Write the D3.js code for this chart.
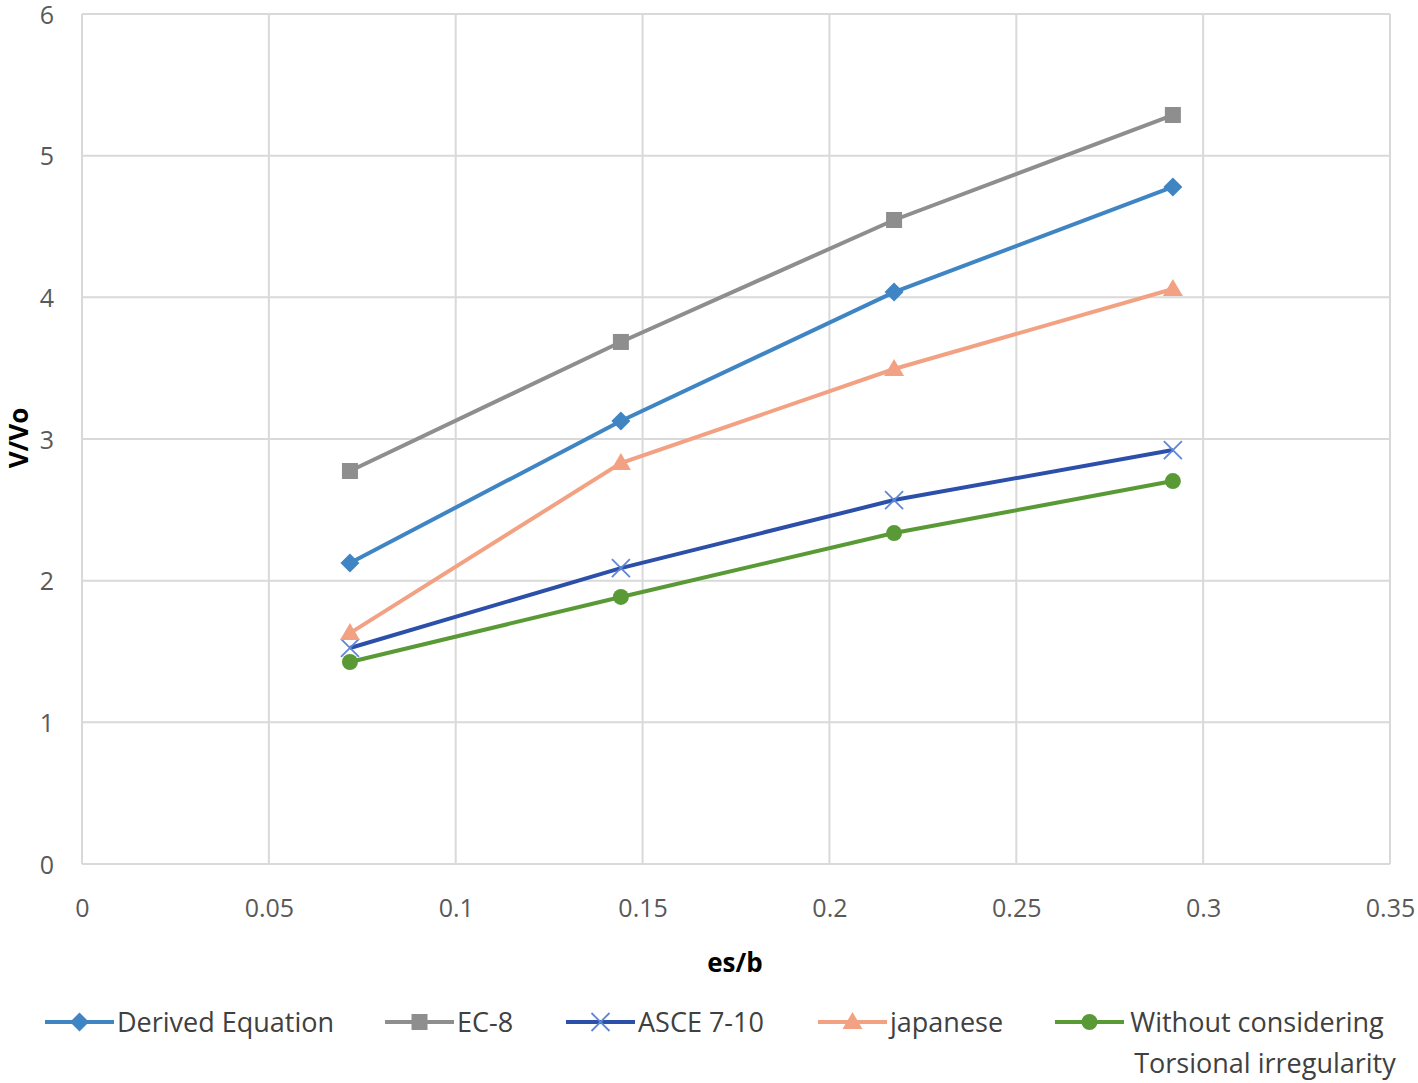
<!DOCTYPE html>
<html><head><meta charset="utf-8">
<script src="https://cdn.jsdelivr.net/npm/d3@7"></script>
<style>
body{margin:0;background:#fff;}
text{font-family:"Liberation Sans Narrow","Open Sans",Lato,sans-serif;}
</style></head>
<body><svg id="c" width="1418" height="1083"></svg>
<script>
const xValues = [0.0717, 0.1442, 0.2173, 0.2919];
const derived = [2.125, 3.127, 4.037, 4.779];
const ec8 = [2.774, 3.685, 4.546, 5.287];
const asce = [1.525, 2.089, 2.569, 2.922];
const japanese = [1.63, 2.83, 3.494, 4.059];
const without = [1.426, 1.885, 2.336, 2.703];
const seriesNames = ["Derived Equation", "EC-8", "ASCE 7-10", "japanese", "Without considering|Torsional irregularity"];
const xTicks = [0, 0.05, 0.1, 0.15, 0.2, 0.25, 0.3, 0.35];
const yTicks = [0, 1, 2, 3, 4, 5, 6];

const series = [
  {name: seriesNames[0], values: derived, color: "#3f85c4", marker: "diamond", mcolor:"#3f85c4"},
  {name: seriesNames[1], values: ec8, color: "#8e8e8e", marker: "square", mcolor:"#8e8e8e"},
  {name: seriesNames[2], values: asce, color: "#2c50aa", marker: "x", mcolor:"#5f86d6"},
  {name: seriesNames[3], values: japanese, color: "#f2a283", marker: "triangle", mcolor:"#f2a283"},
  {name: seriesNames[4], values: without, color: "#5a9a36", marker: "circle", mcolor:"#5a9a36"}
];

const svg = d3.select("#c");
const x = d3.scaleLinear().domain([0, 0.35]).range([82, 1390]);
const y = d3.scaleLinear().domain([0, 6]).range([864, 14]);

// grid
svg.append("g").selectAll("line").data(xTicks).join("line")
  .attr("x1", d => x(d)).attr("x2", d => x(d)).attr("y1", y(0)).attr("y2", y(6))
  .attr("stroke", "#d9d9d9").attr("stroke-width", 2);
svg.append("g").selectAll("line").data(yTicks).join("line")
  .attr("x1", x(0)).attr("x2", x(0.35)).attr("y1", d => y(d)).attr("y2", d => y(d))
  .attr("stroke", "#d9d9d9").attr("stroke-width", 2);

const xAxis = svg.append("g").attr("transform", `translate(0,${y(0)})`)
  .call(d3.axisBottom(x).tickValues(xTicks).tickSize(0).tickPadding(0).tickFormat(d => String(d)));
xAxis.select(".domain").remove();
xAxis.selectAll("text").attr("dy", null).attr("y", 53).attr("fill", "#595959").attr("font-size", 25);

const yAxis = svg.append("g").attr("transform", `translate(${x(0)},0)`)
  .call(d3.axisLeft(y).tickValues(yTicks).tickSize(0).tickPadding(0).tickFormat(d3.format("d")));
yAxis.select(".domain").remove();
yAxis.selectAll("text").attr("x", -28).attr("dy", "0.37em").attr("fill", "#595959").attr("font-size", 25);

svg.append("text").attr("x", 735).attr("y", 972).attr("text-anchor", "middle")
  .attr("font-size", 26).attr("font-weight", "bold").attr("fill", "#000").text("es/b");
svg.append("text").attr("transform", "translate(28,438) rotate(-90)").attr("text-anchor", "middle")
  .attr("font-size", 26).attr("font-weight", "bold").attr("fill", "#000").text("V/Vo");

function drawMarker(g, type, cx, cy, color) {
  if (type === "diamond") {
    g.append("path").attr("d", d3.symbol(d3.symbolDiamond2, 230)()).attr("transform", `translate(${cx},${cy})`).attr("fill", color);
  } else if (type === "square") {
    g.append("rect").attr("x", cx-8).attr("y", cy-8).attr("width", 16).attr("height", 16).attr("fill", color);
  } else if (type === "triangle") {
    g.append("path").attr("d", `M${cx},${cy-10}L${cx+10},${cy+7}L${cx-10},${cy+7}Z`).attr("fill", color);
  } else if (type === "circle") {
    g.append("circle").attr("cx", cx).attr("cy", cy).attr("r", 8).attr("fill", color);
  } else if (type === "x") {
    g.append("path").attr("d", `M${cx-9},${cy-9}L${cx+9},${cy+9}M${cx-9},${cy+9}L${cx+9},${cy-9}`)
      .attr("stroke", color).attr("stroke-width", 1.8).attr("fill", "none");
  }
}

const line = d3.line().x(d => x(d[0])).y(d => y(d[1]));
series.forEach(s => {
  const pts = xValues.map((xv, i) => [xv, s.values[i]]);
  const g = svg.append("g");
  g.append("path").attr("d", line(pts)).attr("fill", "none").attr("stroke", s.color).attr("stroke-width", 4);
  pts.forEach(p => drawMarker(g, s.marker, x(p[0]), y(p[1]), s.mcolor));
});

// legend
const legendX = [45, 385, 566, 818, 1055];
const lg = svg.append("g");
series.forEach((s, i) => {
  const lx = legendX[i], ly = 1022;
  lg.append("line").attr("x1", lx).attr("x2", lx + 69).attr("y1", ly).attr("y2", ly)
    .attr("stroke", s.color).attr("stroke-width", 4);
  drawMarker(lg, s.marker, lx + 34.5, ly, s.mcolor);
  const parts = s.name.split("|");
  if (parts.length === 1) {
    lg.append("text").attr("x", lx + 72).attr("y", ly + 10).attr("font-size", 27).attr("fill", "#404040").text(parts[0]);
  } else {
    lg.append("text").attr("x", 1257).attr("y", ly + 10).attr("text-anchor", "middle").attr("font-size", 27).attr("fill", "#404040").text(parts[0]);
    lg.append("text").attr("x", 1265).attr("y", ly + 51).attr("text-anchor", "middle").attr("font-size", 27).attr("fill", "#404040").text(parts[1]);
  }
});
</script></body></html>
